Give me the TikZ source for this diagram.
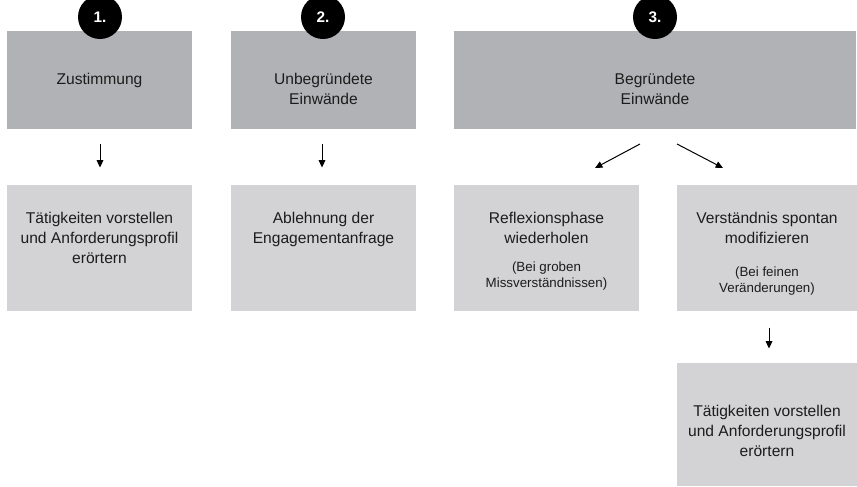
\documentclass[tikz,border=0pt]{standalone}
\usepackage{fontspec}
\setmainfont{Liberation Sans}
\usetikzlibrary{arrows.meta}

\definecolor{kopfgrau}{RGB}{177,178,181}
\definecolor{feldgrau}{RGB}{211,211,213}
\definecolor{schrift}{RGB}{28,28,28}

\tikzset{every picture/.style={line width=0.75pt}}
\tikzset{
  kopf/.style={fill=kopfgrau, inner sep=0pt, minimum height=73.5pt},
  feld/.style={fill=feldgrau, inner sep=0pt, minimum height=94.5pt},
  nummer/.style={circle, fill=black, text=white, inner sep=0pt, minimum size=33pt, font=\bfseries\fontsize{11.5}{13}\selectfont},
  txt/.style={align=center, anchor=north, inner sep=0pt, text=schrift, font=\fontsize{11.7}{15}\selectfont},
  klein/.style={txt, font=\fontsize{10}{12}\selectfont},
  pfeil/.style={-{Triangle[length=5.5pt,width=5pt]}}
}

\begin{document}
\begin{tikzpicture}[x=0.75pt,y=0.75pt,yscale=-1,xscale=1]
\useasboundingbox (0,0) rectangle (857,486);
\clip (0,0) rectangle (857,486);

%Shape: Rectangle
\node (zust) [kopf, minimum width=138.75pt] at (99.5,80) {};
%Shape: Rectangle
\node (unbeg) [kopf, minimum width=138.75pt] at (323.5,80) {};
%Shape: Rectangle
\node (begr) [kopf, minimum width=301.5pt] at (655,80) {};

%Shape: Circle
\node (n1) [nummer] at (100,17) {1.};
%Shape: Circle
\node (n2) [nummer] at (323,17) {2.};
%Shape: Circle
\node (n3) [nummer] at (655,17) {3.};

%Shape: Rectangle
\node (taet) [feld, minimum width=138.75pt] at (99.5,248) {};
%Shape: Rectangle
\node (ableh) [feld, minimum width=138.75pt] at (323.5,248) {};
%Shape: Rectangle
\node (refl) [feld, minimum width=138.75pt] at (546.5,248) {};
%Shape: Rectangle
\node (verst) [feld, minimum width=135pt] at (767,248) {};
%Shape: Rectangle
\node (taetb) [feld, minimum width=135pt, minimum height=92.25pt] at (767,424.5) {};

%Straight Lines
\draw [pfeil, shorten <=11pt, shorten >=12.75pt] (zust.south -| 100,0) -- (taet.north -| 100,0);
%Straight Lines
\draw [pfeil, shorten <=11pt, shorten >=12.75pt] (unbeg.south -| 322,0) -- (ableh.north -| 322,0);
%Straight Lines
\coordinate (l1) at (640,144);
\coordinate (l2) at (595,168);
\draw [pfeil] (l1) -- (l2);
%Straight Lines
\coordinate (r1) at (677,144);
\coordinate (r2) at (723,168);
\draw [pfeil] (r1) -- (r2);
%Straight Lines
\draw [pfeil, shorten <=12pt, shorten >=10.5pt] (verst.south -| 769,0) -- (taetb.north -| 769,0);

% Text Node
\node [txt] at (99.5,73) {Zustimmung};
% Text Node
\node [txt] at (323.5,73) {Unbegründete\\Einwände};
% Text Node
\node [txt] at (655,73) {Begründete\\Einwände};
% Text Node
\node [txt] at (99.5,212) {Tätigkeiten vorstellen\\und Anforderungsprofil\\erörtern};
% Text Node
\node [txt] at (323.5,212) {Ablehnung der\\Engagementanfrage};
% Text Node
\node [txt] at (546.5,212) {Reflexionsphase\\wiederholen};
% Text Node
\node [klein] at (546.5,261.5) {(Bei groben\\Missverständnissen)};
% Text Node
\node [txt] at (767,212) {Verständnis spontan\\modifizieren};
% Text Node
\node [klein] at (767,266.5) {(Bei feinen\\Veränderungen)};
% Text Node
\node [txt] at (767,405) {Tätigkeiten vorstellen\\und Anforderungsprofil\\erörtern};

\end{tikzpicture}
\end{document}
